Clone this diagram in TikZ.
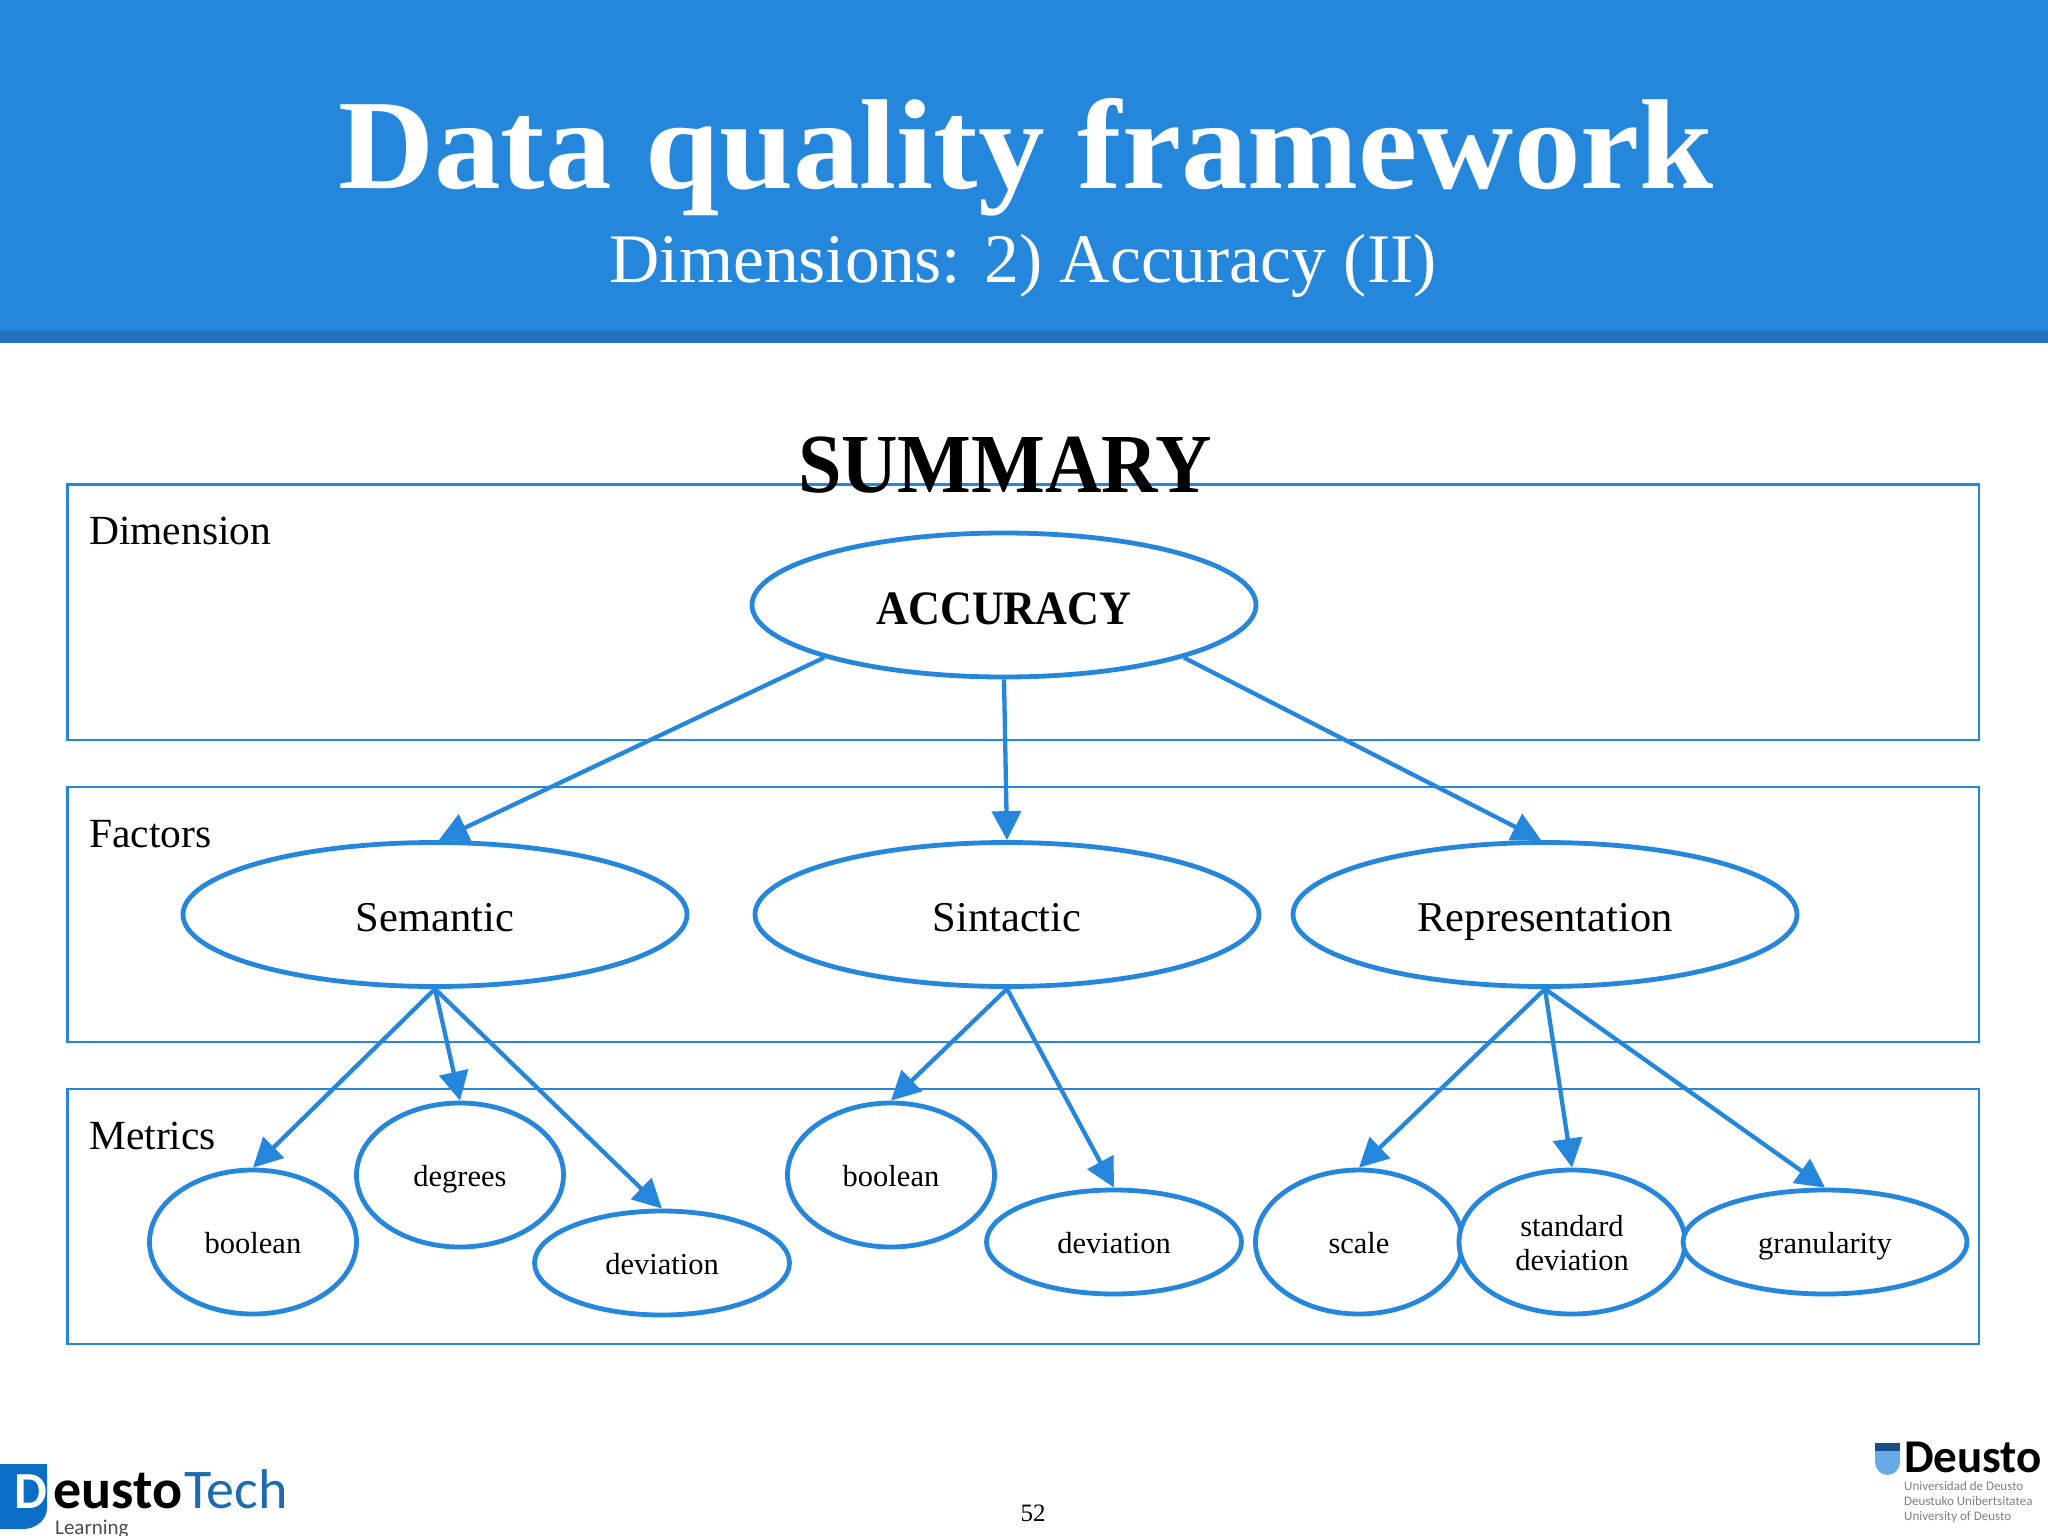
\documentclass[tikz,border=0pt]{standalone}
\usepackage{fontspec}
\setmainfont{Liberation Serif}
\newfontfamily\logofont{Carlito}
\usepackage{graphicx}
\usepackage{tikz}
\usetikzlibrary{arrows.meta,shapes.geometric}
\definecolor{deustoblue}{HTML}{2487DC}
\definecolor{stripblue}{HTML}{2472BC}
\definecolor{logoblue}{HTML}{0B6EC5}
\tikzset{
	layerbox/.style={draw=deustoblue,line width=2.4pt},
	oval/.style={ellipse,draw=deustoblue,line width=4.8pt,fill=white,inner sep=0pt,minimum width=#1},
	oval/.default=207pt,
	tall/.style={minimum height=144pt},
	flat/.style={minimum height=104pt},
	link/.style={draw=deustoblue,line width=4.3pt,-{Triangle[length=29pt,width=29pt]}},
	layername/.style={anchor=base west,inner sep=0pt,font=\fontsize{41.5}{48}\selectfont},
	metric/.style={font=\fontsize{30.5}{34}\selectfont,align=center,text height=28pt,text depth=6pt},
	factor/.style={font=\fontsize{42.5}{48}\selectfont,text height=40pt,text depth=6pt},
	logotext/.style={anchor=base west,inner sep=0pt,text depth=0pt}
}
\begin{document}
\begin{tikzpicture}[x=1pt,y=-1pt]
	\useasboundingbox (0,0) rectangle (2048,1536);
	\fill[white] (0,0) rectangle (2048,1536);
	\fill[deustoblue] (0,0) rectangle (2048,331);
	\fill[stripblue] (0,331) rectangle (2048,343);
	\node (title) [white,anchor=base,font=\bfseries\fontsize{128}{130}\selectfont] at (1026,189) {\scalebox{1.04}[1]{Data quality framework}};
	\node (subtitle) [white,anchor=base,font=\fontsize{69.6}{80}\selectfont] at (1023,282.5) {Dimensions: 2) Accuracy (II)};
	% layers
	\draw[layerbox] (67.5,484.5) rectangle (1979,740);
	\draw[layerbox] (67.5,787) rectangle (1979,1042);
	\draw[layerbox] (67.5,1089) rectangle (1979,1344);
	\node (summary) [anchor=base,font=\bfseries\fontsize{84}{96}\selectfont] at (1005,492) {\scalebox{.93}[1]{SUMMARY}};
	\node (dim) [layername] at (89,544) {Dimension};
	\node (fac) [layername] at (89,847) {Factors};
	\node (met) [layername] at (89,1149) {Metrics};
	% dimension and factors
	\node[oval=504pt,tall,font=\bfseries\fontsize{48}{56}\selectfont,text height=44pt,text depth=6pt] (acc) at (1004,605) {\scalebox{.92}[1]{ACCURACY}};
	\node[oval=504pt,tall,factor] (sem) at (435,914.5) {Semantic};
	\node[oval=504pt,tall,factor] (sin) at (1007,914.5) {Sintactic};
	\node[oval=504pt,tall,factor] (rep) at (1545,914.5) {Representation};
	% metrics
	\node[oval,tall,metric] (bool_1) at (253,1242) {boolean};
	\node[oval,tall,metric] (deg) at (460,1175) {degrees};
	\node[oval=255pt,flat,metric] (dev_1) at (662,1263) {deviation};
	\node[oval,tall,metric] (bool_2) at (891,1175) {boolean};
	\node[oval=255pt,flat,metric] (dev_2) at (1114,1242) {deviation};
	\node[oval,tall,metric] (scl) at (1359,1242) {scale};
	\node[oval=226pt,tall,metric,text height=62pt] (std) at (1572,1242) {standard\\deviation};
	\node[oval=284pt,flat,metric] (gran) at (1825,1242) {granularity};
	\path[link] (acc.south west) -- (sem.87);
	\path[link] (acc.south) -- (sin.north);
	\path[link] (acc.south east) -- (rep.93);
	\path[link] (sem.south) -- (bool_1.north);
	\path[link] (sem.south) -- (deg.north);
	\path[link] (sem.south) -- (dev_1.north);
	\path[link] (sin.south) -- (bool_2.north);
	\path[link] (sin.south) -- (dev_2.north);
	\path[link] (rep.south) -- (scl.north);
	\path[link] (rep.south) -- (std.north);
	\path[link] (rep.south) -- (gran.north);
	\node (page) [anchor=base,font=\fontsize{25}{28}\selectfont] at (1033,1521) {52};
	% logos
	\fill[logoblue] (0,1464) -- (47,1464) -- (47,1508) arc (0:90:24 and 21) -- (0,1529) -- cycle;
	\node (d) [white,anchor=base,inner sep=0pt,font=\logofont\bfseries\fontsize{52}{60}\selectfont] at (31,1508) {D};
	\node (deusto) [logotext,font=\logofont\bfseries\fontsize{56}{60}\selectfont] at (53,1508) {eusto};
	\node (tech) [logotext,deustoblue!80!black,font=\logofont\fontsize{56}{60}\selectfont] at (184,1508) {Tech};
	\node (learn) [logotext,black!70,font=\logofont\fontsize{21}{24}\selectfont] at (55,1534) {Learning};
	\fill[deustoblue!70!white] (1875,1443) -- (1900,1443) -- (1900,1462) arc (0:180:12.5 and 13) -- cycle;
	\fill[stripblue!70!black] (1875,1443) rectangle (1900,1451);
	\node (ud) [logotext,font=\logofont\bfseries\fontsize{47}{48}\selectfont] at (1904,1472) {Deusto};
	\node (ud_text) [black!50,anchor=north west,inner sep=0pt,align=left,font=\logofont\fontsize{13}{15}\selectfont] at (1904,1481) {Universidad de Deusto\\Deustuko Unibertsitatea\\University of Deusto};
\end{tikzpicture}
\end{document}
